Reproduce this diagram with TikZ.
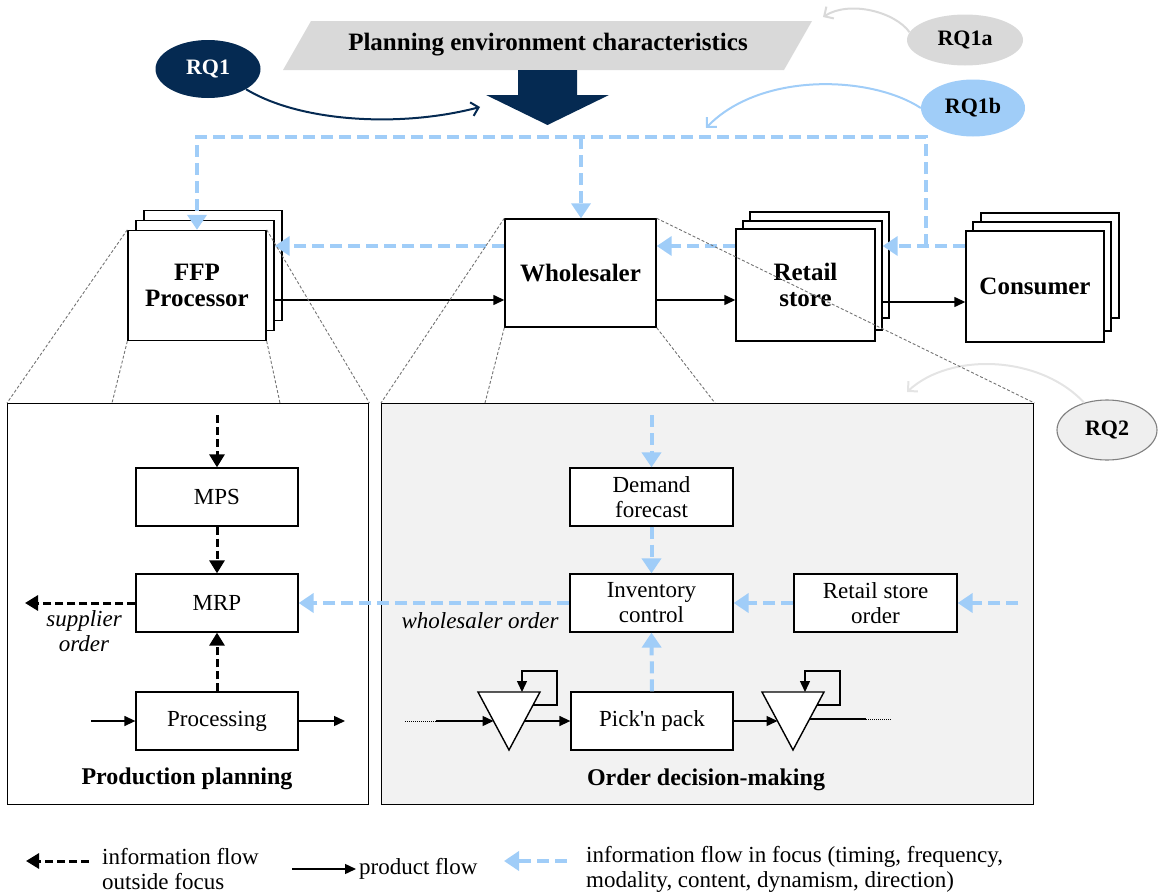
\documentclass[tikz,border=0pt]{standalone}
\usepackage{fontspec}
\setmainfont{Liberation Serif}[Ligatures=TeXOff]
\usetikzlibrary{arrows.meta,shapes.geometric,calc}
\definecolor{navy}{RGB}{5,42,82}
\definecolor{focus}{RGB}{160,205,248}
\definecolor{titlegray}{RGB}{217,217,217}
\definecolor{panelgray}{RGB}{242,242,242}
\definecolor{zoomgray}{RGB}{115,115,115}
\definecolor{rqgray}{RGB}{239,239,239}
\definecolor{rqline}{RGB}{128,128,128}
\definecolor{faintgray}{RGB}{228,228,228}
\newcommand\regtext{\fontsize{23}{25}\selectfont}
\newcommand\boldtext{\bfseries\fontsize{25}{26}\selectfont}
\newcommand\rqtext{\bfseries\fontsize{22}{24}\selectfont}
\begin{document}
\begin{tikzpicture}[x=1pt,y=-1pt,
  stage/.style={draw, line width=1.4pt, fill=white, minimum width=138pt,
    minimum height=110pt, inner sep=0pt, align=center, font=\boldtext},
  task/.style={draw, line width=1.3pt, fill=white, minimum width=162pt,
    minimum height=58pt, inner sep=0pt, align=center, font=\regtext},
  panel/.style={draw, line width=1.4pt, anchor=north west, inner sep=0pt,
    minimum height=401pt},
  rq/.style={ellipse, inner sep=0pt, font=\rqtext},
  focusline/.style={draw=focus, line width=4pt, dash pattern=on 12pt off 6pt},
  focusflow/.style={focusline, -{Triangle[length=15pt,width=19pt]}},
  infoflow/.style={draw=black, line width=3pt, dash pattern=on 8pt off 4pt,
    -{Triangle[length=13pt,width=15pt]}},
  product/.style={line width=1.4pt, -{Triangle[length=11pt,width=10pt]}},
  dotline/.style={line width=1pt, dash pattern=on 1pt off 1pt},
  zoomline/.style={draw=zoomgray, line width=0.9pt, dash pattern=on 3pt off 2pt},
  tri/.style={draw, line width=1.4pt, fill=white, line join=miter},
  loopflow/.style={line width=1.4pt, -{Triangle[length=11pt,width=10pt]}},
  rqarrow/.style={line width=2pt, -{Straight Barb[length=7pt,width=14pt]}},
  lbl/.style={inner sep=0pt, font=\regtext, align=center},
  legend/.style={inner sep=0pt, font=\regtext, align=left, anchor=west}
]
\useasboundingbox (0,0) rectangle (1163,894);

% ---------- planning environment banner and research questions ----------
\coordinate (envbl) at (283,70);
\coordinate (envtl) at (311,21);
\coordinate (envtr) at (812,21);
\coordinate (envbr) at (784,70);
\fill[titlegray] (envbl) -- (envtl) -- (envtr) -- (envbr) -- cycle;
\node[inner sep=0pt, font=\boldtext] (env) at (548,45) {Planning environment characteristics};

\fill[navy] (518,70) -- (577,70) -- (577,95) -- (609,95) -- (547.5,125)
  -- (486,95) -- (518,95) -- cycle;

\node[rq, fill=navy, text=white, minimum width=105pt, minimum height=58pt] (rq1) at (208,69) {RQ1};
\coordinate (rq1end) at (480,107);
\draw[navy, rqarrow] (rq1.-28) .. controls (300,122) and (400,128) .. (rq1end);

\node[rq, fill=titlegray, minimum width=116pt, minimum height=51pt] (rq1a) at (965,40) {RQ1a};
\coordinate (rq1aend) at (823,17);
\draw[titlegray, rqarrow] (rq1a.172) .. controls (895,12) and (850,0) .. (rq1aend);

\node[rq, fill=focus, minimum width=104pt, minimum height=57pt] (rq1b) at (973,108) {RQ1b};
\coordinate (rq1bend) at (706,128);
\draw[focus, rqarrow] (rq1b.west) .. controls (870,75) and (760,72) .. (rq1bend);

\node[rq, fill=rqgray, draw=rqline, line width=1.1pt, minimum width=100pt, minimum height=60pt] (rq2) at (1107,430) {RQ2};
\coordinate (rq2end) at (907,392);
\draw[faintgray, rqarrow] (rq2.130) .. controls (1040,355) and (950,352) .. (rq2end);

% ---------- supply chain stages ----------
\node[stage] (ffp3) at (213,265.5) {};
\node[stage] (ffp2) at (205,275.5) {};
\node[stage] (ffp) at (197,285.5) {FFP\\Processor};

\node[stage, minimum width=151pt, minimum height=108pt] (wh) at (580.5,273) {Wholesaler};

\node[stage, minimum width=139pt, minimum height=106pt] (retail3) at (819.5,265) {};
\node[stage, minimum width=139pt, minimum height=109pt] (retail2) at (812.5,275.5) {};
\node[stage, minimum width=139pt, minimum height=112pt] (retail) at (805.5,285) {Retail\\store};

\node[stage, minimum height=105pt] (cons3) at (1050,265.5) {};
\node[stage, minimum height=109pt] (cons2) at (1042,276.5) {};
\node[stage, minimum height=111pt] (cons) at (1035,286.5) {Consumer};

% product flow between stages
\draw[product] (ffp2.east |- 0,300) -- (wh.west |- 0,300);
\draw[product] (wh.east |- 0,300) -- (retail.west |- 0,300);
\draw[product] (retail2.east |- 0,302) -- (cons.west |- 0,302);

% information flow in focus between stages
\coordinate (tl) at (197,137);
\coordinate (tm) at (581,137);
\coordinate (tr) at (926,137);
\coordinate (tj) at (926,246);
\draw[focusflow] (tj) -- (tr) -- (tl) -- (ffp.north);
\draw[focusflow] (tm) -- (tm |- wh.north);
\draw[focusflow] (cons.west |- 0,246) -- (retail2.east |- 0,246);
\draw[focusflow] (retail.west |- 0,246) -- (wh.east |- 0,246);
\draw[focusflow] (wh.west |- 0,246) -- (ffp2.east |- 0,246);

% ---------- detail panels ----------
\node[panel, fill=white, minimum width=361pt] (pp) at (7,403) {};
\node[panel, fill=panelgray, minimum width=652pt] (od) at (381,403) {};

% zoom cones from the stages to their panels
\coordinate (ppl) at (112,403);
\coordinate (ppr) at (280,403);
\coordinate (odl) at (485,403);
\coordinate (odr) at (715,403);
\draw[zoomline] (ffp.north west) -- (pp.north west);
\draw[zoomline] (ffp.north east) -- (pp.north east);
\draw[zoomline] (ffp.south west) -- (ppl);
\draw[zoomline] (ffp.south east) -- (ppr);
\draw[zoomline] (wh.north west) -- (od.north west);
\draw[zoomline] (wh.north east) -- (od.north east);
\draw[zoomline] (wh.south west) -- (odl);
\draw[zoomline] (wh.south east) -- (odr);

% ---------- production planning ----------
\node[task] (mps) at (217,497) {MPS};
\node[task] (mrp) at (217,603) {MRP};
\node[task] (proc) at (217,721) {Processing};
\node[inner sep=0pt, font=\bfseries\fontsize{24}{26}\selectfont] (pptitle) at (187,779) {Production planning};

\coordinate (mpsin) at (217,415);
\coordinate (supp) at (25,603);
\coordinate (procin) at (91,721);
\coordinate (procout) at (345,721);
\draw[infoflow] (mpsin) -- (mps.north);
\draw[infoflow] (mps.south) -- (mrp.north);
\draw[infoflow] (proc.north) -- (mrp.south);
\draw[infoflow] (mrp.west) -- (supp);
\node[lbl, font=\itshape\regtext] (supplbl) at (84,631) {supplier\\order};
\draw[product] (procin) -- (proc.west);
\draw[product] (proc.east) -- (procout);

% ---------- order decision-making ----------
\node[task, minimum width=163pt] (df) at (651.5,497) {Demand\\forecast};
\node[task, minimum width=163pt] (ic) at (651.5,603) {Inventory\\control};
\node[task, minimum width=163pt] (rso) at (875.5,603) {Retail store\\order};
\node[task] (pick) at (652,721) {Pick'n pack};
\node[inner sep=0pt, font=\bfseries\fontsize{24}{26}\selectfont] (odtitle) at (706,780) {Order decision-making};

\coordinate (dfin) at (651.5,415);
\coordinate (rsoin) at (1018,603);
\draw[focusflow] (dfin) -- (df.north);
\draw[focusflow] (df.south) -- (ic.north);
\draw[focusflow] (rsoin) -- (rso.east);
\draw[focusflow] (rso.west) -- (ic.east);
\draw[focusflow] (pick.north) -- (ic.south);
\draw[focusflow] (ic.west) -- (mrp.east);
\node[lbl, font=\itshape\regtext] (wholbl) at (480,621) {wholesaler order};

% inventory buffers before and after picking
\coordinate (t1l) at (478,692);
\coordinate (t1r) at (540,692);
\coordinate (t1b) at (509,750);
\coordinate (t2l) at (762,692);
\coordinate (t2r) at (824,692);
\coordinate (t2b) at (793,750);
\draw[tri] (t1l) -- (t1r) -- (t1b) -- cycle;
\draw[tri] (t2l) -- (t2r) -- (t2b) -- cycle;

\coordinate (in0) at (405,721);
\coordinate (in1) at (436,721);
\coordinate (t1in) at (493.5,721);
\coordinate (t1out) at (524.5,721);
\coordinate (t1loop) at (533,705);
\coordinate (t1top) at (522,692);
\draw[dotline] (in0) -- (in1);
\draw[product] (in1) -- (t1in);
\draw[product] (t1out) -- (pick.west);
\draw[loopflow] (t1loop) -- (557,705) -- (557,671) -- (522,671) -- (t1top);

\coordinate (t2in) at (777.5,721);
\coordinate (t2out) at (810,719);
\coordinate (out1) at (866,719);
\coordinate (out2) at (892,719);
\coordinate (t2loop) at (817,705);
\coordinate (t2top) at (805,692);
\draw[product] (pick.east) -- (t2in);
\draw[line width=1.4pt] (t2out) -- (out1);
\draw[dotline] (out1) -- (out2);
\draw[loopflow] (t2loop) -- (840,705) -- (840,671) -- (805,671) -- (t2top);

% ---------- legend ----------
\coordinate (lg1s) at (89,861);
\coordinate (lg1t) at (26,861);
\draw[infoflow] (lg1s) -- (lg1t);
\node[legend] (lg1) at (102,869.5) {information flow\\outside focus};

\coordinate (lg2s) at (292,869);
\coordinate (lg2t) at (356,869);
\draw[product] (lg2s) -- (lg2t);
\node[legend] (lg2) at (359,869) {product flow};

\coordinate (lg3s) at (567,861);
\coordinate (lg3t) at (504,861);
\draw[focusflow] (lg3s) -- (lg3t);
\node[legend] (lg3) at (586,869.5) {information flow in focus (timing, frequency,\\modality, content, dynamism, direction)};
\end{tikzpicture}
\end{document}
